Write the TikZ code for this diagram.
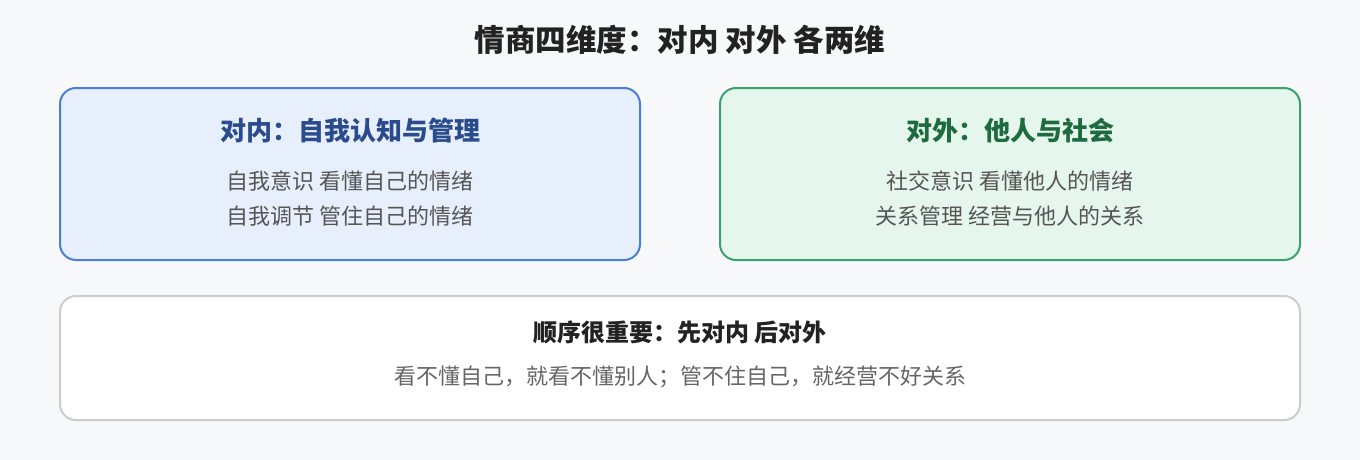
\documentclass[tikz,border=0pt]{standalone}
\usepackage{fontspec}
\setmainfont{Noto Sans CJK SC}
\definecolor{bg}{HTML}{F7F8FA}
\definecolor{bluefill}{HTML}{E8EFFC}
\definecolor{blueline}{HTML}{4A7FD4}
\definecolor{bluetitle}{HTML}{2B4C8C}
\definecolor{greenfill}{HTML}{E5F6EC}
\definecolor{greenline}{HTML}{3AA26A}
\definecolor{greentitle}{HTML}{1E6B40}
\definecolor{graybody}{HTML}{555555}
\definecolor{grayline}{HTML}{CCCCCC}
\definecolor{darktext}{HTML}{222222}
\definecolor{body3}{HTML}{666666}
\tikzset{
  panel/.style={draw, line width=2pt, rounded corners=16pt, inner sep=0pt},
  txt/.style={inner sep=0pt, anchor=center},
  boxtitle/.style={txt, font=\fontsize{26}{30}\selectfont\bfseries},
  boxbody/.style={txt, font=\fontsize{22}{26}\selectfont, text=graybody},
}
\begin{document}
\begin{tikzpicture}[x=1pt,y=-1pt]
\fill[bg] (0,0) rectangle (1360,460);
\useasboundingbox (0,0) rectangle (1360,460);
\node[txt, font=\fontsize{30.5}{35}\selectfont\bfseries, text=darktext] (title) at (680,40) {情商四维度：对内 对外 各两维};
% box 1
\node[panel, draw=blueline, fill=bluefill, minimum width=580pt, minimum height=172pt] (box1) at (350,174) {};
\node[boxtitle, text=bluetitle] (t1) at (350,131) {对内：自我认知与管理};
\node[boxbody] (b1a) at (350,181) {自我意识 看懂自己的情绪};
\node[boxbody] (b1b) at (350,216) {自我调节 管住自己的情绪};
% box 2
\node[panel, draw=greenline, fill=greenfill, minimum width=580pt, minimum height=172pt] (box2) at (1010,174) {};
\node[boxtitle, text=greentitle] (t2) at (1010,131) {对外：他人与社会};
\node[boxbody] (b2a) at (1010,181) {社交意识 看懂他人的情绪};
\node[boxbody] (b2b) at (1010,216) {关系管理 经营与他人的关系};
% box 3
\node[panel, draw=grayline, fill=white, minimum width=1240pt, minimum height=124pt] (box3) at (680,358) {};
\node[txt, font=\fontsize{24}{28}\selectfont\bfseries, text=darktext] (t3) at (680,332) {顺序很重要：先对内 后对外};
\node[txt, font=\fontsize{22}{26}\selectfont, text=body3] (b3) at (680,377) {看不懂自己，就看不懂别人；管不住自己，就经营不好关系};
\end{tikzpicture}
\end{document}
